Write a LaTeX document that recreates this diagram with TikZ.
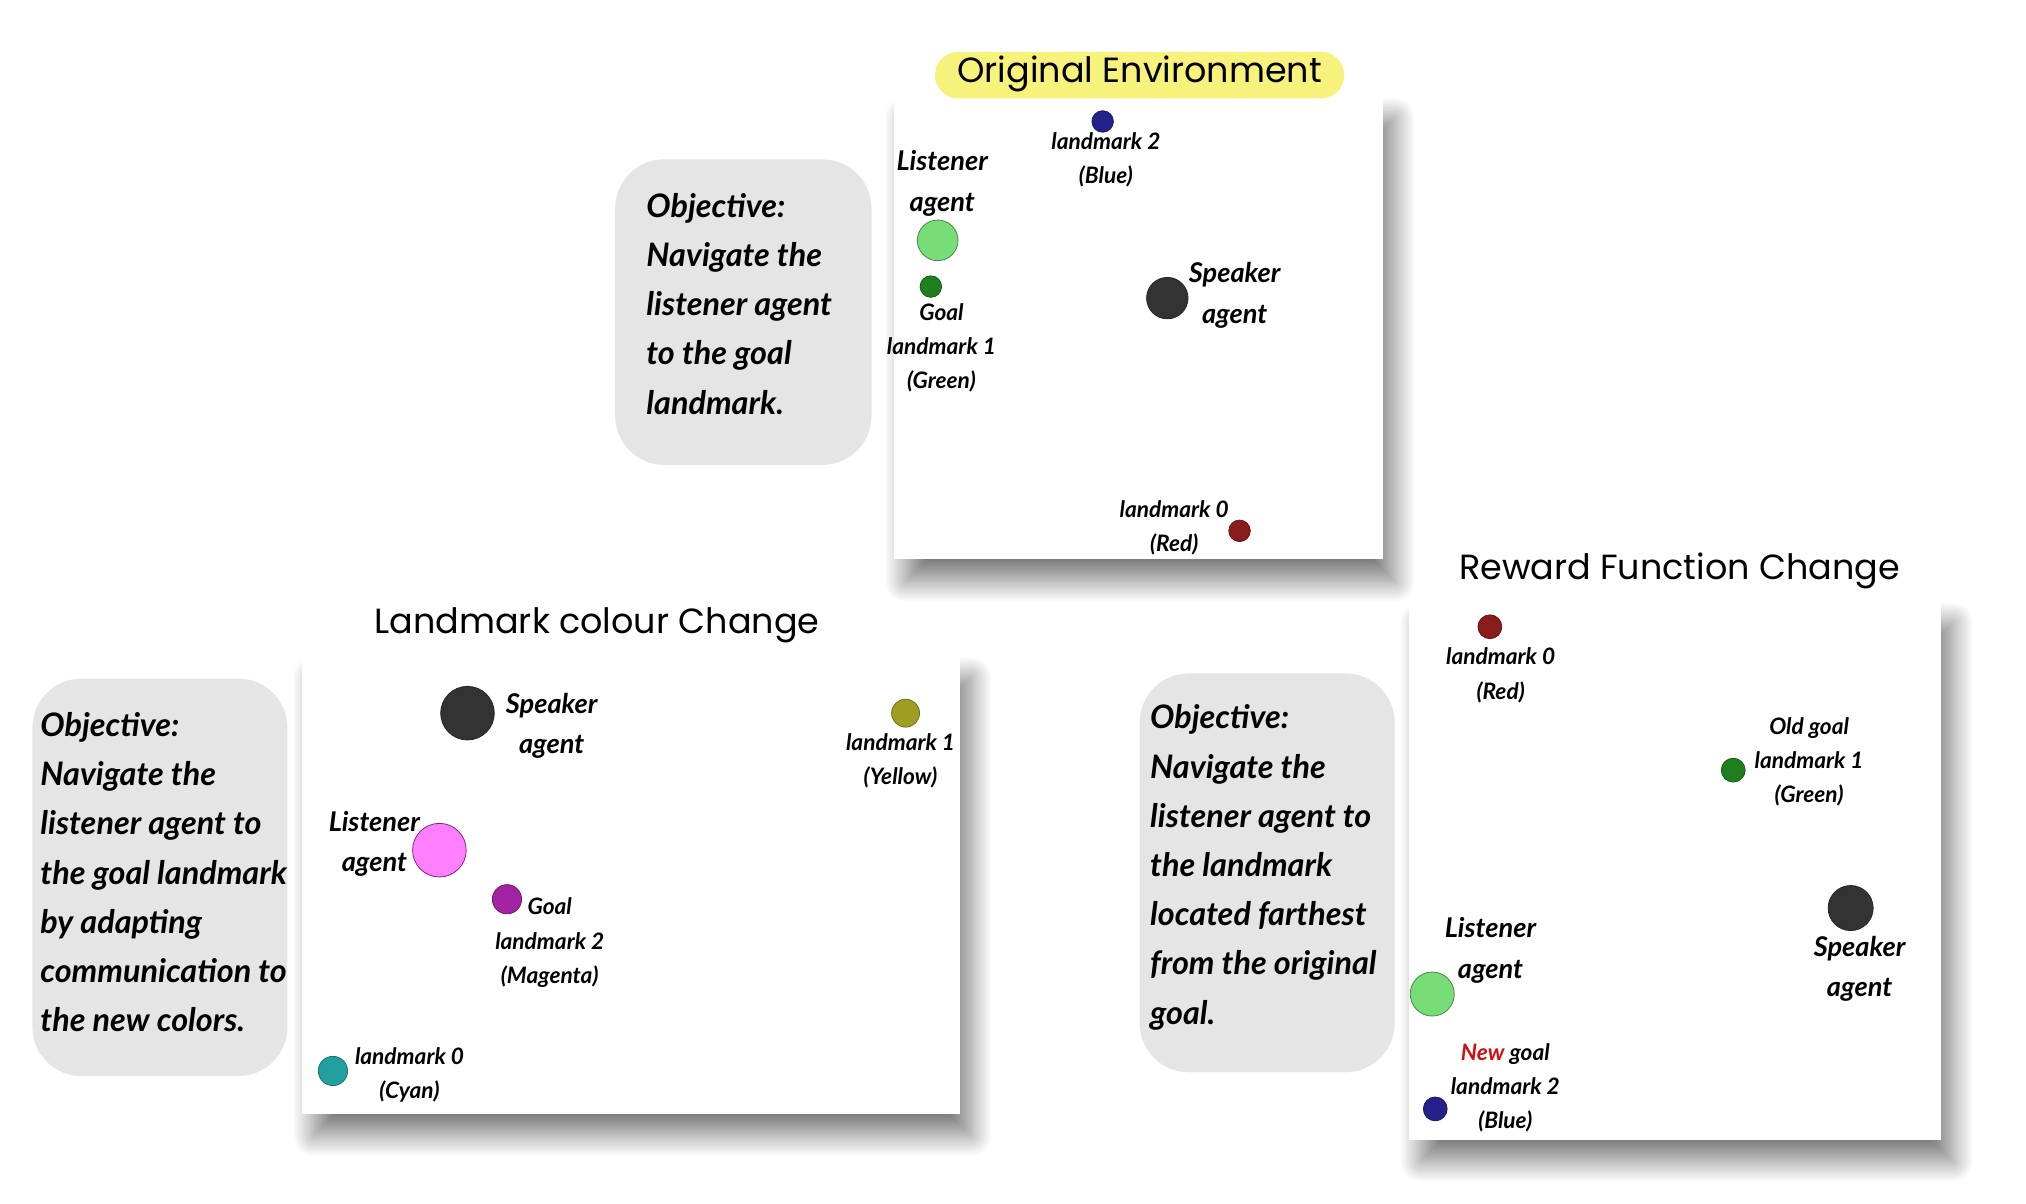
\documentclass[tikz,border=0pt]{standalone}
\usepackage{fontspec}
\setmainfont{Lato}
\newfontfamily\titlefont{Poppins}
\usetikzlibrary{shadows.blur}
\definecolor{boxgray}{HTML}{E5E5E5}
\definecolor{hiyellow}{HTML}{F6F27C}
\definecolor{lmnavy}{HTML}{22228A}
\definecolor{lmgreen}{HTML}{1F7F1F}
\definecolor{aglight}{HTML}{77DD77}
\definecolor{lmred}{HTML}{8B1C1C}
\definecolor{agdark}{HTML}{333333}
\definecolor{lmolive}{HTML}{A09E22}
\definecolor{agpink}{HTML}{FF80FF}
\definecolor{lmmag}{HTML}{A224A2}
\definecolor{lmcyan}{HTML}{22A0A0}
\definecolor{newred}{HTML}{D01010}
\begin{document}
\begin{tikzpicture}[x=1pt,y=-1pt,
  panel/.style={fill=white, blur shadow={shadow xshift=9pt, shadow yshift=-17pt, shadow blur radius=16pt, shadow blur steps=24, shadow opacity=50}},
  objbox/.style={fill=boxgray, rounded corners=38pt},
  objtext/.style={font=\fontsize{25}{38}\selectfont\bfseries\itshape, align=left, anchor=north west, inner sep=0pt},
  ttl/.style={font=\titlefont\fontsize{27}{30}\selectfont, inner sep=0pt},
  aglabel/.style={font=\fontsize{21}{31.5}\selectfont\bfseries\itshape, align=center, inner sep=0pt},
  lmlabel/.style={font=\fontsize{17.5}{26.5}\selectfont\bfseries\itshape, align=center, inner sep=0pt},
  dot/.style={circle, inner sep=0pt, line width=0.6pt}
]
\useasboundingbox (0,0) rectangle (1564.5,929.7);

% ---------------- Original environment ----------------
\path[panel] (690,74) rectangle (1068,432);
\path[fill=hiyellow, rounded corners=18pt] (722,40) rectangle (1038,76);
\node[ttl] (t1) at (880,57) {Original Environment};
\path[objbox] (475,123) rectangle (673,359);
\node[objtext] (o1) at (499,149) {Objective:\\Navigate the\\listener agent\\to the goal\\landmark.};

\node[dot, fill=lmnavy, draw=lmnavy!70!black, minimum size=16.6pt] (a2) at (851.5,93.8) {};
\node[lmlabel] (a2l) at (854,123.6) {landmark 2\\(Blue)};
\node[dot, fill=aglight, draw=aglight!60!black, minimum size=31.4pt] (alis) at (724.1,185.6) {};
\node[aglabel] (alisl) at (727.6,141.8) {Listener\\agent};
\node[dot, fill=lmgreen, draw=lmgreen!70!black, minimum size=16.6pt] (a1) at (718.8,221.3) {};
\node[lmlabel] (a1l) at (727,268.5) {Goal\\landmark 1\\(Green)};
\node[dot, fill=agdark, draw=agdark!70!black, minimum size=32pt] (aspk) at (901.4,230.2) {};
\node[aglabel] (aspkl) at (953.4,228) {Speaker\\agent};
\node[dot, fill=lmred, draw=lmred!70!black, minimum size=16.6pt] (a0) at (957.2,409.9) {};
\node[lmlabel] (a0l) at (906.7,407.8) {landmark 0\\(Red)};

% ---------------- Landmark colour change ----------------
\path[panel] (233,506) rectangle (741,860);
\node[ttl] (t2) at (461,483) {Landmark colour Change};
\path[objbox] (25,524) rectangle (222,831);
\node[objtext] (o2) at (31,550) {Objective:\\Navigate the\\listener agent to\\the goal landmark\\by adapting\\communication to\\the new colors.};

\node[dot, fill=agdark, draw=agdark!70!black, minimum size=41.4pt] (bspk) at (361,550.7) {};
\node[aglabel] (bspkl) at (426,560.5) {Speaker\\agent};
\node[dot, fill=lmolive, draw=lmolive!70!black, minimum size=21.6pt] (b1) at (699.3,550.7) {};
\node[lmlabel] (b1l) at (695.4,587.3) {landmark 1\\(Yellow)};
\node[dot, fill=agpink, draw=lmmag!80!black, minimum size=41.4pt] (blis) at (339.3,656.5) {};
\node[aglabel] (blisl) at (289.1,651.6) {Listener\\agent};
\node[dot, fill=lmmag, draw=lmmag!70!black, minimum size=22.6pt] (b2) at (391.5,694.4) {};
\node[lmlabel] (b2l) at (424.5,728) {Goal\\landmark 2\\(Magenta)};
\node[dot, fill=lmcyan, draw=lmcyan!70!black, minimum size=22.6pt] (b0) at (257.1,827) {};
\node[lmlabel] (b0l) at (316.2,830.3) {landmark 0\\(Cyan)};

% ---------------- Reward function change ----------------
\path[panel] (1088,464) rectangle (1499,880);
\node[ttl] (t3) at (1297,441) {Reward Function Change};
\path[objbox] (880,520) rectangle (1077,828);
\node[objtext] (o3) at (888,544) {Objective:\\Navigate the\\listener agent to\\the landmark\\located farthest\\from the original\\goal.};

\node[dot, fill=lmred, draw=lmred!70!black, minimum size=18.4pt] (c0) at (1150.5,484) {};
\node[lmlabel] (c0l) at (1158.8,521.6) {landmark 0\\(Red)};
\node[dot, fill=lmgreen, draw=lmgreen!70!black, minimum size=18.4pt] (c1) at (1338.4,594.7) {};
\node[lmlabel] (c1l) at (1397,588.3) {Old goal\\landmark 1\\(Green)};
\node[dot, fill=agdark, draw=agdark!70!black, minimum size=34.8pt] (cspk) at (1429.1,701.2) {};
\node[aglabel] (cspkl) at (1436,748.2) {Speaker\\agent};
\node[dot, fill=aglight, draw=aglight!60!black, minimum size=34pt] (clis) at (1106,767.6) {};
\node[aglabel] (clisl) at (1151,734.1) {Listener\\agent};
\node[dot, fill=lmnavy, draw=lmnavy!70!black, minimum size=18.4pt] (c2) at (1108.3,856.3) {};
\node[lmlabel] (c2l) at (1162.4,840.1) {{\color{newred}New} goal\\landmark 2\\(Blue)};
\end{tikzpicture}
\end{document}
